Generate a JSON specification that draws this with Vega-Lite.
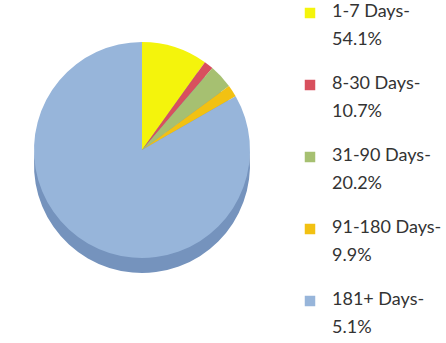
{
  "$schema": "https://vega.github.io/schema/vega-lite/v6.json",
  "width": 284,
  "height": 300,
  "padding": 0,
  "autosize": {"type": "pad"},
  "background": "white",
  "data": {"values": [
    {"category": "1-7 Days-\n54.1%", "share": 9.9, "order": 1},
    {"category": "8-30 Days-\n10.7%", "share": 1.4, "order": 2},
    {"category": "31-90 Days-\n20.2%", "share": 3.6, "order": 3},
    {"category": "91-180 Days-\n9.9%", "share": 1.8, "order": 4},
    {"category": "181+ Days-\n5.1%", "share": 83.3, "order": 5}
  ]},
  "layer": [
    {
      "mark": {"type": "arc", "outerRadius": 108, "color": "#7593bd", "yOffset": 15},
      "encoding": {
        "theta": {"field": "share", "type": "quantitative", "stack": true},
        "order": {"field": "order", "type": "quantitative"}
      }
    },
    {
      "mark": {"type": "arc", "outerRadius": 108},
      "encoding": {
        "theta": {"field": "share", "type": "quantitative", "stack": true},
        "order": {"field": "order", "type": "quantitative"},
        "color": {
          "field": "category",
          "type": "nominal",
          "sort": null,
          "scale": {
            "domain": ["1-7 Days-\n54.1%", "8-30 Days-\n10.7%", "31-90 Days-\n20.2%", "91-180 Days-\n9.9%", "181+ Days-\n5.1%"],
            "range": ["#f4f40c", "#d8505e", "#a6c071", "#f2c112", "#97b5da"]
          },
          "legend": {
            "orient": "none",
            "legendX": 301,
            "legendY": 4,
            "title": null,
            "padding": 0,
            "symbolType": "square",
            "symbolSize": 110,
            "symbolStrokeWidth": 0,
            "symbolOpacity": 1,
            "labelFont": "Lato",
            "labelFontSize": 18,
            "labelColor": "#333333",
            "labelOffset": 13,
            "labelLimit": 0,
            "labelBaseline": "top",
            "labelExpr": "split(datum.label, '\\n')",
            "rowPadding": 26,
            "encode": {"labels": {"update": {"lineHeight": {"value": 28}, "dy": {"value": -10}}}}
          }
        }
      }
    }
  ],
  "config": {"view": {"stroke": null}}
}
